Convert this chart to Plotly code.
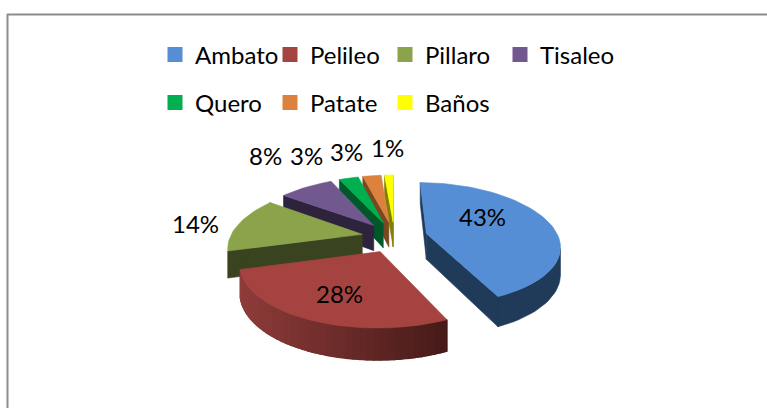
import math
import plotly.graph_objects as go

categories = ["Ambato", "Pelileo", "Pillaro", "Tisaleo", "Quero", "Patate", "Baños"]
values = [42.9, 27.9, 13.9, 8.0, 3.0, 2.9, 1.4]
top_colors = ["#558ED5", "#A54340", "#8BA44B", "#71588F", "#00B050", "#DD813E", "#FFFF00"]
cut_colors = ["#203A5A", "#6A2B29", "#3A4320", "#2E233C", "#00582A", "#7A4820", "#808000"]
rim_left = ["#203A5A", "#8E3C3A", "#3A4320", "#2E233C", "#00582A", "#7A4820", "#808000"]
rim_right = ["#203A5A", "#451A18", "#3A4320", "#2E233C", "#00582A", "#7A4820", "#808000"]
label_pos = [(482, 216), (339, 293), (195, 223), (265, 155), (306, 155), (346, 151), (387, 147)]

CX, CY, RX, RY, EXPL, DEPTH, KX, KY = 394.5, 237, 132, 62, 0.25, 26, 0.19, 0.16
W, H = 767, 408


def project(x, y):
    s = 1 + KX * y
    return CX + x * RX * s, CY + y * RY * (1 + KY * y), DEPTH * s


def hex2rgb(c):
    return [int(c[i:i + 2], 16) for i in (1, 3, 5)]


def mix(a, b, t):
    pa, pb = hex2rgb(a), hex2rgb(b)
    return "rgb(%d,%d,%d)" % tuple(round(p + (q - p) * t) for p, q in zip(pa, pb))


fig = go.Figure()


def poly(xs, ys, color, width=0.6):
    fig.add_trace(go.Scatter(
        x=xs + [xs[0]], y=ys + [ys[0]], mode="lines", fill="toself", fillcolor=color,
        line=dict(color=color, width=width), hoverinfo="skip", showlegend=False))


total = sum(values)
start = 0.0
slices = []
for i, v in enumerate(values):
    a0 = start
    a1 = start + v / total * 2 * math.pi
    start = a1
    mid = (a0 + a1) / 2
    ox, oy = EXPL * math.sin(mid), -EXPL * math.cos(mid)
    n = max(4, int(v * 1.5))
    rim = [(ox + math.sin(a0 + (a1 - a0) * k / n), oy - math.cos(a0 + (a1 - a0) * k / n)) for k in range(n + 1)]
    slices.append((i, (ox, oy), rim))

# painter's order: far slices first, the two large near slices last
for i, apex, rim in [slices[j] for j in (6, 5, 4, 3, 2, 0, 1)]:
    pts = [project(*apex)] + [project(*p) for p in rim]
    # radial cut faces that look towards the viewer
    for a, b in ((pts[0], pts[1]), (pts[-1], pts[0])):
        if b[0] - a[0] < 0:
            poly([a[0], b[0], b[0], a[0]], [a[1], b[1], b[1] + b[2], a[1] + a[2]], cut_colors[i])
    # outer rim: a base band, then shading strips when the colour varies
    band = [p for k, p in enumerate(pts[1:-1]) if pts[k + 2][0] - p[0] < 0] + [pts[-1]]
    if len(band) > 1:
        poly([p[0] for p in band] + [p[0] for p in band[::-1]],
             [p[1] for p in band] + [p[1] + p[2] for p in band[::-1]],
             mix(rim_left[i], rim_right[i], 0.5))
        if rim_left[i] != rim_right[i]:
            xmin, xmax = min(p[0] for p in band), max(p[0] for p in band)
            for a, b in zip(band[:-1], band[1:]):
                t = 1 - ((a[0] + b[0]) / 2 - xmin) / max(xmax - xmin, 1)
                poly([a[0], b[0], b[0], a[0]], [a[1], b[1], b[1] + b[2], a[1] + a[2]],
                     mix(rim_right[i], rim_left[i], t), width=1.2)
    poly([p[0] for p in pts], [p[1] for p in pts], top_colors[i])

for i, c in enumerate(categories):
    fig.add_trace(go.Scatter(
        x=[None], y=[None], mode="markers", name=c,
        marker=dict(symbol="square", size=15, color=top_colors[i]),
        legend="legend" if i < 4 else "legend2"))

for v, (x, y) in zip(values, label_pos):
    fig.add_annotation(x=x, y=y, text=f"{round(v)}%", showarrow=False,
                       font=dict(family="Lato", size=24, color="#000000"))

legend_style = dict(orientation="h", xanchor="left", yanchor="middle", x=161 / W,
                    entrywidth=76, entrywidthmode="pixels", itemsizing="trace", indentation=-6,
                    font=dict(family="Lato", size=24, color="#000000"),
                    bgcolor="rgba(0,0,0,0)")
fig.update_layout(
    width=W, height=H, margin=dict(l=0, r=0, t=0, b=0),
    paper_bgcolor="#FFFFFF", plot_bgcolor="#FFFFFF",
    xaxis=dict(range=[0, W], visible=False, fixedrange=True),
    yaxis=dict(range=[H, 0], visible=False, fixedrange=True),
    legend=dict(y=1 - 55 / H, **legend_style),
    legend2=dict(y=1 - 103 / H, **legend_style),
    shapes=[dict(type="line", xref="x", yref="y", x0=7, y0=14.5, x1=767, y1=14.5, line=dict(color="#8C8C8C", width=2)),
            dict(type="line", xref="x", yref="y", x0=7.5, y0=14, x1=7.5, y1=H, line=dict(color="#8C8C8C", width=2))],
)
fig.write_html("out.html", config=dict(displayModeBar=False),
               post_script="document.body.style.margin='0';")
